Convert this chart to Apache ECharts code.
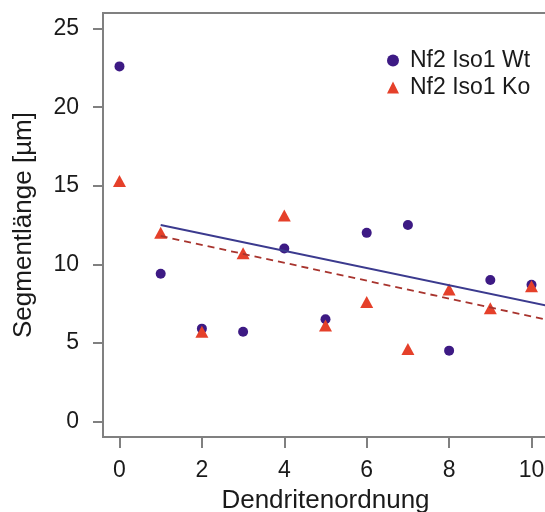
<!DOCTYPE html>
<html>
<head>
<meta charset="utf-8">
<script src="https://cdn.jsdelivr.net/npm/echarts@6/dist/echarts.min.js"></script>
<style>
  html, body { margin: 0; padding: 0; background: #fff; }
  #main { width: 545px; height: 512px; }
</style>
</head>
<body>
<div id="main"></div>
<script>
// Dendritenordnung 0..10
var orders = [0, 1, 2, 3, 4, 5, 6, 7, 8, 9, 10];
var wtValues = [22.6, 9.4, 5.9, 5.7, 11.0, 6.5, 12.0, 12.5, 4.5, 9.0, 8.7];
var koValues = [15.3, 12.0, 5.7, 10.7, 13.1, 6.1, 7.6, 4.6, 8.4, 7.2, 8.6];
// trend lines (start / end)
var fitX = [1, 10.4];
var wtFit = [12.5, 7.35];
var koFit = [11.8, 6.45];
var xTicks = [0, 2, 4, 6, 8, 10];
var yTicks = [0, 5, 10, 15, 20, 25];

function pairs(xs, ys) {
    return xs.map(function (x, i) { return [x, ys[i]]; });
}

var font = 'Liberation Sans, Arial, sans-serif';
var chart = echarts.init(document.getElementById('main'), null, { renderer: 'canvas' });
var option = {
    animation: false,
    grid: {
        left: 103,
        top: 13,
        right: -3,
        bottom: 75,
        show: true,
        borderColor: '#808080',
        borderWidth: 2,
        containLabel: false,
        outerBoundsMode: 'none'
    },
    legend: {
        orient: 'vertical',
        left: 382,
        top: 44,
        itemWidth: 12,
        itemHeight: 12,
        itemGap: 4,
        textStyle: { fontFamily: font, fontSize: 23, color: '#1a1a1a', padding: [0, 0, 0, 6] },
        data: [
            { name: 'Nf2 Iso1 Wt', icon: 'circle' },
            { name: 'Nf2 Iso1 Ko', icon: 'triangle' }
        ]
    },
    xAxis: {
        type: 'value',
        min: -0.4,
        max: 10.4,
        name: 'Dendritenordnung',
        nameLocation: 'middle',
        nameGap: 51,
        nameTextStyle: { fontFamily: font, fontSize: 26, color: '#1a1a1a' },
        axisLine: { show: false, onZero: false },
        axisTick: { show: true, inside: false, length: 11, customValues: xTicks, lineStyle: { color: '#808080', width: 2 } },
        axisLabel: { customValues: xTicks, margin: 22, fontFamily: font, fontSize: 23, color: '#1a1a1a' },
        splitLine: { show: false }
    },
    yAxis: {
        type: 'value',
        min: -1,
        max: 26,
        name: 'Segmentlänge [µm]',
        nameLocation: 'middle',
        nameGap: 66,
        nameTextStyle: { fontFamily: font, fontSize: 26, color: '#1a1a1a' },
        axisLine: { show: false, onZero: false },
        axisTick: { show: true, inside: false, length: 10, customValues: yTicks, lineStyle: { color: '#808080', width: 2 } },
        axisLabel: { customValues: yTicks, margin: 24, fontFamily: font, fontSize: 23, color: '#1a1a1a' },
        splitLine: { show: false }
    },
    series: [
        {
            name: 'Nf2 Iso1 Wt',
            type: 'scatter',
            symbol: 'circle',
            symbolSize: 10,
            itemStyle: { color: '#3d1a84', opacity: 1 },
            data: pairs(orders, wtValues),
            silent: true,
            z: 2
        },
        {
            name: 'Nf2 Iso1 Ko',
            type: 'scatter',
            symbol: 'triangle',
            symbolSize: [13, 12],
            itemStyle: { color: '#e5402a', opacity: 1 },
            data: pairs(orders, koValues),
            silent: true,
            z: 3
        },
        {
            name: 'Wt fit',
            type: 'line',
            showSymbol: false,
            symbol: 'none',
            lineStyle: { color: '#3b3a8e', width: 1.8 },
            data: pairs(fitX, wtFit),
            silent: true,
            z: 4
        },
        {
            name: 'Ko fit',
            type: 'line',
            showSymbol: false,
            symbol: 'none',
            lineStyle: { color: '#a8342e', width: 1.8, type: [7, 5] },
            data: pairs(fitX, koFit),
            silent: true,
            z: 4
        }
    ]
};
chart.setOption(option);
</script>
</body>
</html>
